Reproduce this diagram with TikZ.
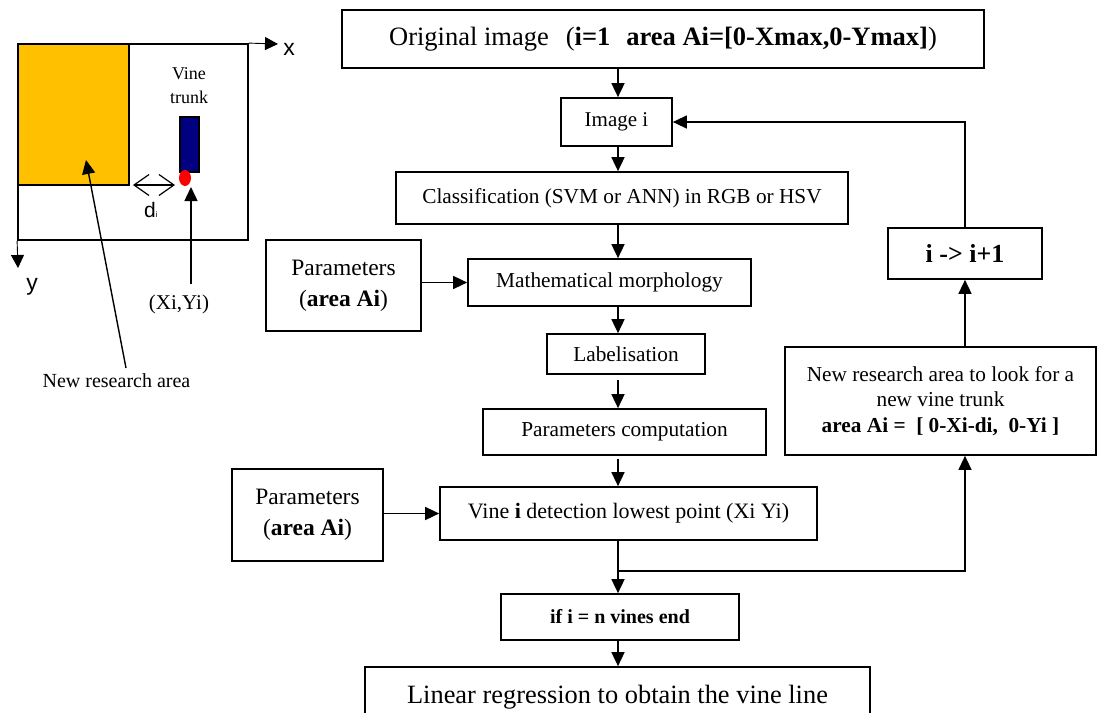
\documentclass[tikz,border=0pt]{standalone}
\usepackage{fontspec}
\setmainfont{Liberation Serif}
\newfontfamily\arialfam{Liberation Sans}
\usetikzlibrary{arrows.meta,shapes.geometric}
\definecolor{orangefill}{RGB}{255,192,0}
\definecolor{trunkblue}{RGB}{0,0,128}
\definecolor{dotred}{RGB}{255,0,0}
\begin{document}
\begin{tikzpicture}[x=1pt,y=-1pt,
  box/.style={draw, line width=1.7pt, inner sep=0pt, align=center, font=\fontsize{21.3}{25.5}\selectfont},
  arr/.style={line width=1.6pt, -{Triangle[length=14pt,width=13pt]}},
  thinarr/.style={line width=1.3pt, -{Triangle[length=14pt,width=13pt]}},
  axisarr/.style={line width=0.9pt, -{Triangle[length=13pt,width=13pt]}},
  barb/.style={line width=1.2pt, {Straight Barb[length=15pt,width=21pt]}-{Straight Barb[length=15pt,width=21pt]}},
  lbl/.style={inner sep=0pt}]
\useasboundingbox (0,0) rectangle (1097,712);
\clip (0,0) rectangle (1097,712);

% ---------- inset ----------
\node[draw, line width=1.8pt, minimum width=230pt, minimum height=196pt, inner sep=0pt] (frame) at (133,142) {};
\node[draw, line width=1.3pt, fill=orangefill, minimum width=111pt, minimum height=141pt, inner sep=0pt] (zone) at (73.5,114.5) {};
\node[draw, line width=1.2pt, fill=trunkblue, minimum width=19pt, minimum height=55pt, inner sep=0pt] (trunk) at (189.5,144.5) {};
\node[ellipse, fill=dotred, minimum width=12pt, minimum height=16pt, inner sep=0pt] (dot) at (185,178) {};

\coordinate (xtip) at (278,44);
\coordinate (ytip) at (18,268);
\draw[axisarr] (frame.north east) -- (xtip);
\draw[axisarr] (frame.south west) -- (ytip);
\node[lbl, font=\arialfam\fontsize{23}{23}\selectfont] (xl) at (289,49) {x};
\node[lbl, font=\arialfam\fontsize{23}{23}\selectfont] (yl) at (32,286.5) {y};

\node[lbl, align=center, font=\fontsize{18}{24}\selectfont] (vt) at (189,86) {Vine\\trunk};

\coordinate (da1) at (133,185);
\coordinate (da2) at (175,185);
\draw[barb] (da1) -- (da2);
\node[lbl, anchor=base west, font=\arialfam\fontsize{21}{21}\selectfont] (dl) at (144,217) {d\raisebox{0pt}{\fontsize{8}{8}\selectfont i}};

\node[lbl, font=\fontsize{21}{21}\selectfont] (xy) at (179,304) {(Xi,Yi)};
\coordinate (xystart) at (191,284);
\coordinate (dottip) at (191,187);
\draw[arr, line width=1.4pt] (xystart) -- (dottip);

\node[lbl, font=\fontsize{20}{20}\selectfont] (nral) at (116.5,381) {New research area};
\coordinate (nrs) at (126,368);
\coordinate (nrt) at (86,160);
\draw[arr, line width=1.4pt] (nrs) -- (nrt);

% ---------- flow chart ----------
\node[box, minimum width=642pt, minimum height=58pt, font=\fontsize{26.5}{30}\selectfont] (orig) at (663,39)
  {Original image\hspace{17pt}(\textbf{i=1\hspace{16pt}area Ai=[0-Xmax,0-Ymax]})};
\node[box, minimum width=111pt, minimum height=48pt, font=\fontsize{21}{25}\selectfont] (imgi) at (616.5,122) {Image i};
\node[box, minimum width=452pt, minimum height=52pt] (cls) at (622,198) {Classification (SVM or ANN) in RGB or HSV};
\node[box, minimum width=283pt, minimum height=47pt] (morph) at (609.5,282.5) {Mathematical morphology};
\node[box, minimum width=155pt, minimum height=91pt, font=\fontsize{23.5}{31}\selectfont] (par1) at (343.5,285.5) {Parameters\\(\textbf{area Ai})};
\node[box, minimum width=158pt, minimum height=40pt] (lab) at (626,354) {Labelisation};
\node[box, minimum width=283pt, minimum height=46pt] (pcomp) at (624.5,432) {Parameters computation};
\node[box, minimum width=377pt, minimum height=53pt, font=\fontsize{22}{26}\selectfont] (vine) at (628.5,513.5) {Vine \textbf{i} detection lowest point (Xi Yi)};
\node[box, minimum width=151pt, minimum height=92pt, font=\fontsize{23.5}{31}\selectfont] (par2) at (307.5,515) {Parameters\\(\textbf{area Ai})};
\node[box, minimum width=238pt, minimum height=46pt, font=\fontsize{20}{24}\selectfont\bfseries] (ifb) at (620,617) {if i = n vines end};
\node[box, minimum width=505pt, minimum height=80pt] (lr) at (617.5,707) {};
\node[lbl, anchor=base, font=\fontsize{26.4}{30}\selectfont] (lrt) at (617.5,703) {Linear regression to obtain the vine line};
\node[box, minimum width=311pt, minimum height=108pt] (nr) at (940.5,401)
  {New research area to look for a\\new vine trunk\\\textbf{area Ai =\ \ [ 0-Xi-di,\ \ 0-Yi ]}};
\node[box, minimum width=154pt, minimum height=51pt, font=\fontsize{26}{30}\selectfont\bfseries] (inc) at (965,253.5) {i -> i+1};

\coordinate (cx) at (618,0);
\draw[arr] (orig.south -| cx) -- (imgi.north -| cx);
\draw[arr] (imgi.south -| cx) -- (cls.north -| cx);
\draw[arr] (cls.south -| cx) -- (morph.north -| cx);
\draw[arr] (morph.south -| cx) -- (lab.north -| cx);
\draw[arr, shorten <=5pt] (lab.south -| cx) -- (pcomp.north -| cx);
\draw[arr, shorten <=3pt] (pcomp.south -| cx) -- (vine.north -| cx);
\draw[arr] (vine.south -| cx) -- (ifb.north -| cx);
\draw[arr] (ifb.south -| cx) -- (lr.north -| cx);
\draw[arr] (par1.east |- morph.west) -- (morph.west);
\draw[arr] (par2.east |- vine.west) -- (vine.west);
\coordinate (br) at (618,571);
\draw[thinarr] (br) -| (nr.south -| inc.south);
\draw[arr] (nr.north -| inc.south) -- (inc.south);
\draw[thinarr] (inc.north) |- (imgi.east);
\end{tikzpicture}
\end{document}
